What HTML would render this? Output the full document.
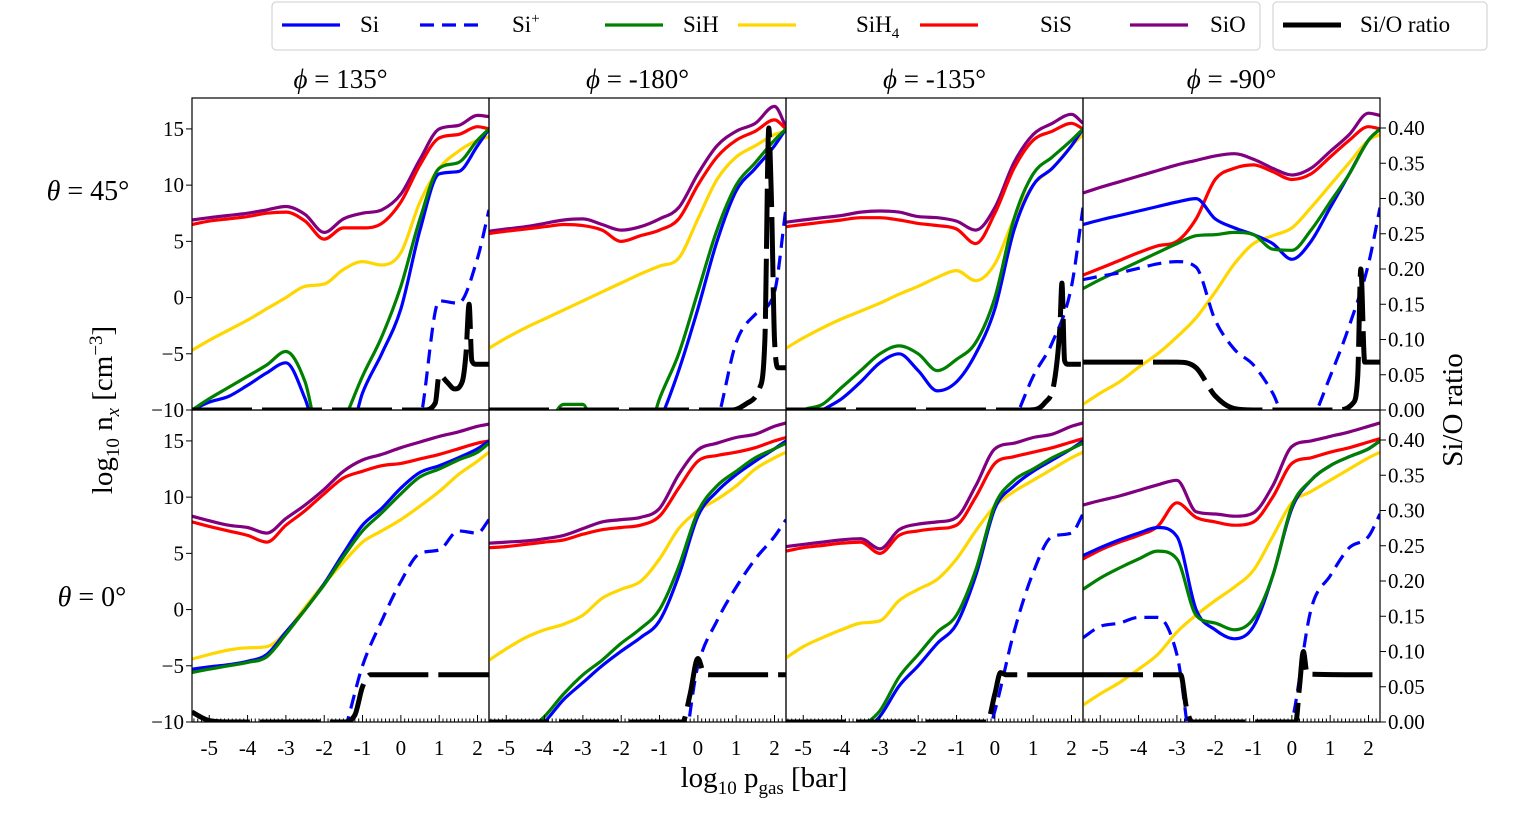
<!DOCTYPE html>
<html><head><meta charset="utf-8"><style>
body{margin:0;background:#fff;width:1533px;height:811px;overflow:hidden}
svg{font-family:"Liberation Serif",serif}
</style></head><body>
<svg id="chart" width="1533" height="811" xmlns="http://www.w3.org/2000/svg"></svg>
<script>
const G = [-5.45,-5,-4.5,-4,-3.5,-3,-2.5,-2,-1.5,-1,-0.5,0,0.5,1,1.5,2,2.3];
const phiLabels = ["135°","-180°","-135°","-90°"];
const xTicks = [-5,-4,-3,-2,-1,0,1,2];
const yTicks = [-10,-5,0,5,10,15];
const rTicks = [0,0.05,0.1,0.15,0.2,0.25,0.3,0.35,0.4];
// top row (theta=45)
const t1SiO=[6.9,7.1,7.3,7.5,7.8,8.1,7.4,5.8,7.0,7.5,7.8,9.2,12.3,15,15.3,16.2,16.1];
const t1SiS=[6.5,6.8,7,7.2,7.5,7.6,6.8,5.2,6.2,6.2,6.6,8.5,11.8,14.2,14.5,15.2,15];
const t1SiH4=[-4.7,-3.8,-2.9,-2,-1,0,1,1.2,2.5,3.2,2.9,4,8.5,11.5,13,14,14.3];
const t1Si=[-10,-9.3,-8.8,-7.8,-6.7,-5.8,-9,-14,-14,-8.5,-5,-1,6,11,11.2,13.5,15];
const t1SiH=[-10,-9,-8,-7,-6,-4.8,-7.5,-14,-11,-7,-3.5,1,7,11.5,12,14,15];
const t1SiP=[-14,-14,-14,-14,-14,-14,-14,-14,-14,-14,-14,-14,-11,-0.3,-0.5,3.5,7.8];
const t1RX=[-5.45,0.6,0.9,1.0,1.2,1.4,1.6,1.7,1.78,1.85,1.95,2.3];
const t1R=[0,0,0.01,0.05,0.04,0.03,0.04,0.08,0.15,0.07,0.065,0.065];
const t2SiO=[5.9,6.1,6.3,6.6,6.9,7.0,6.5,6.0,6.3,7.0,8.0,11,13.5,14.8,15.5,17,15.2];
const t2SiS=[5.7,5.9,6.1,6.3,6.5,6.4,6,5,5.5,6,7,10,12.5,14,14.8,15.8,15];
const t2SiH4=[-4.5,-3.6,-2.7,-1.9,-1.1,-0.3,0.5,1.3,2.1,2.8,3.5,7,10.5,12.5,13.5,14.5,14.8];
const t2Si=[-14,-14,-14,-14,-14,-14,-14,-14,-14,-11,-6.5,-1,5,9.5,11.5,13.5,15];
const t2SiH=[-14,-14,-14,-12,-9.5,-9.5,-14,-14,-14,-9,-5,0.5,6,10,12,14,15];
const t2SiP=[-14,-14,-14,-14,-14,-14,-14,-14,-14,-14,-14,-14,-11,-4,-1.5,0.5,8];
const t2RX=[-5.45,0.9,1.3,1.6,1.75,1.85,1.92,2.0,2.1,2.3];
const t2R=[0,0,0.01,0.03,0.1,0.4,0.3,0.1,0.06,0.06];
const t3SiO=[6.7,6.9,7.1,7.3,7.6,7.7,7.6,7.2,7.1,6.8,6,8,12,14.5,15.5,16.3,15.5];
const t3SiS=[6.3,6.5,6.7,6.9,7.1,7.1,6.9,6.6,6.4,6.1,4.8,7.5,11.5,14,14.8,15.5,15];
const t3SiH4=[-4.5,-3.6,-2.7,-1.9,-1.2,-0.5,0.3,1,1.8,2.4,1.5,3,7,10,11.5,13.5,14.5];
const t3SiH=[-11,-10,-9.5,-8,-6.5,-5,-4.3,-5,-6.5,-5.5,-4,0,7,11,12.5,14,15];
const t3Si=[-11,-11,-10,-9,-7.5,-5.8,-5,-6.5,-8.3,-7.5,-5,-1,6,10,11.5,13.5,15];
const t3SiP=[-14,-14,-14,-14,-14,-14,-14,-14,-14,-14,-14,-14,-11,-7,-4,1,8];
const t3RX=[-5.45,0.9,1.3,1.55,1.7,1.75,1.82,1.9,2.3];
const t3R=[0,0,0.01,0.04,0.12,0.18,0.07,0.065,0.065];
const t4SiO=[9.3,9.8,10.3,10.8,11.3,11.8,12.2,12.6,12.8,12.3,11.5,10.9,11.5,13,14.5,16.4,16.2];
const t4SiS=[2,2.6,3.3,4,4.6,5,7,10.5,11.5,11.8,11.2,10.5,11,12.5,14,15.2,15];
const t4Si=[6.5,6.9,7.3,7.7,8.1,8.5,8.8,7,6.2,5.6,4.8,3.4,5,8,11,14,15];
const t4SiH=[0.8,1.6,2.4,3.2,4,4.8,5.5,5.6,5.8,5.6,4.3,4.2,6,8.5,11,14,15];
const t4SiH4=[-9.5,-8.5,-7.5,-6.2,-5,-3.5,-1.8,0.5,3,4.8,5.5,6.2,8,10,12,14,14.5];
const t4SiP=[1.6,1.9,2.2,2.6,3.0,3.2,2.7,-2,-4.6,-6,-8.5,-12,-11,-7,-2.5,3,8];
const t4RX=[-5.45,-3,-2.5,-2,-1.5,-1,1.2,1.6,1.72,1.8,1.9,2.3];
const t4R=[0.068,0.068,0.06,0.02,0.002,0,0,0.01,0.05,0.2,0.068,0.068];
// bottom row (theta=0)
const b1SiO=[8.3,7.9,7.5,7.3,6.8,8.1,9.3,10.7,12.3,13.3,13.8,14.4,14.9,15.4,15.8,16.3,16.5];
const b1SiS=[7.8,7.4,7,6.6,6,7.5,8.8,10.3,11.7,12.3,12.8,13,13.4,13.8,14.3,14.8,15];
const b1Si=[-5.3,-5.1,-4.9,-4.6,-4,-2,0,2.3,5,7.5,9,10.8,12.2,12.8,13.5,14.3,15];
const b1SiH=[-5.6,-5.3,-5,-4.7,-4.2,-2.2,0,2.2,4.7,7,8.6,10.3,11.8,12.5,13.3,14,14.8];
const b1SiH4=[-4.4,-4,-3.6,-3.4,-3.3,-2,0.2,2.3,4.2,6,7,8,9.2,10.5,12,13.2,14];
const b1SiP=[-14,-14,-14,-14,-14,-14,-14,-14,-11,-5,-1,2.5,5,5.3,7,6.8,8];
const b1RX=[-5.45,-5,-4.5,-1.5,-1.2,-1,-0.8,-0.5,2.3];
const b1R=[0.014,0.002,0,0,0.01,0.05,0.067,0.067,0.067];
const b2SiO=[5.9,6,6.1,6.3,6.6,7.2,7.8,8,8.2,9,12,14.2,14.8,15.3,15.6,16.3,16.6];
const b2SiS=[5.5,5.6,5.8,6,6.2,6.7,7.1,7.3,7.5,8.3,10.8,13.2,13.7,14,14.4,15,15.3];
const b2SiH4=[-4.5,-3.5,-2.5,-1.8,-1.3,-0.5,1,1.8,2.5,4.5,7.2,8.8,9.8,11,12.5,13.5,14];
const b2SiH=[-14,-13,-11,-9.5,-7.5,-5.8,-4.5,-3,-1.7,0,3.8,8.7,11,12.3,13.5,14.3,14.8];
const b2Si=[-14,-13,-11.5,-10,-8,-6.5,-5,-3.7,-2.5,-1,3,8.3,10.5,12,13.2,14.3,15];
const b2SiP=[-14,-14,-14,-14,-14,-14,-14,-14,-14,-14,-14,-5,-1,2,4.5,6.5,8];
const b2RX=[-5.45,-0.4,-0.2,0,0.15,0.3,2.3];
const b2R=[0,0,0.04,0.09,0.07,0.067,0.067];
const b3SiO=[5.6,5.8,6,6.2,6.3,5.4,7.1,7.6,7.8,8.2,11,14.3,14.8,15.3,15.6,16.3,16.6];
const b3SiS=[5.2,5.5,5.7,5.9,6,5.0,6.6,7,7.2,7.5,10,13,13.6,14,14.4,14.9,15.2];
const b3SiH4=[-4.3,-3.3,-2.5,-1.8,-1.2,-1,0.8,1.8,2.7,4.5,7,9.2,10.5,11.5,12.5,13.5,14];
const b3SiH=[-14,-14,-13,-12,-10.5,-9,-6,-4,-2,-0.5,3.5,9.3,11.5,12.5,13.5,14.3,14.8];
const b3Si=[-14,-14,-13,-12,-11,-9.5,-6.8,-5,-3,-1.3,3,9,11,12.3,13.3,14.3,15];
const b3SiP=[-14,-14,-14,-14,-14,-14,-14,-14,-14,-14,-14,-9,-2,3.3,6.5,6.8,8.5];
const b3RX=[-5.45,-0.2,0,0.15,0.3,2.3];
const b3R=[0,0,0.04,0.07,0.067,0.067];
const b4SiO=[9.3,9.7,10.1,10.6,11.1,11.5,8.7,8.5,8.3,8.6,11,14.5,15,15.4,15.8,16.3,16.6];
const b4SiS=[4.5,5.3,6,6.6,7.4,9.5,8.2,7.8,7.5,7.8,10,13,13.5,14,14.4,14.9,15.2];
const b4Si=[4.8,5.5,6.2,6.8,7.3,6.5,0,-1.8,-2.6,-1.5,3,9,11.5,12.8,13.6,14.3,15];
const b4SiH=[1.8,2.8,3.7,4.5,5.2,4.5,-0.5,-1.2,-1.8,-0.8,3,9.2,11.5,12.8,13.6,14.3,15];
const b4SiH4=[-8.5,-7.5,-6.5,-5.3,-4,-2,-0.5,0.8,2,3.5,6.5,9.5,10.5,11.5,12.5,13.5,14];
const b4SiP=[-2.5,-1.5,-1.2,-0.7,-0.7,-4,-14,-14,-14,-14,-14,-10,0,3,5.5,6.5,8.5];
const b4RX=[-5.45,-2.9,-2.75,-2.6,0.1,0.2,0.3,0.4,2.3];
const b4R=[0.067,0.067,0.02,0,0,0.05,0.1,0.068,0.067];

const panels=[
 [t1SiO,t1SiS,t1SiH4,t1Si,t1SiH,t1SiP,t1RX,t1R],[t2SiO,t2SiS,t2SiH4,t2Si,t2SiH,t2SiP,t2RX,t2R],
 [t3SiO,t3SiS,t3SiH4,t3Si,t3SiH,t3SiP,t3RX,t3R],[t4SiO,t4SiS,t4SiH4,t4Si,t4SiH,t4SiP,t4RX,t4R],
 [b1SiO,b1SiS,b1SiH4,b1Si,b1SiH,b1SiP,b1RX,b1R],[b2SiO,b2SiS,b2SiH4,b2Si,b2SiH,b2SiP,b2RX,b2R],
 [b3SiO,b3SiS,b3SiH4,b3Si,b3SiH,b3SiP,b3RX,b3R],[b4SiO,b4SiS,b4SiH4,b4Si,b4SiH,b4SiP,b4RX,b4R]];
const seriesNames=["sio","sis","sih4","si","sih","si-plus"];
const seriesColors=["#800080","#ff0000","#ffd700","#0000ff","#008000","#0000ff"];

const svg=document.getElementById('chart');
const NS="http://www.w3.org/2000/svg";
function mk(tag,attrs,parent){const e=document.createElementNS(NS,tag);for(const k in attrs)e.setAttribute(k,attrs[k]);(parent||svg).appendChild(e);return e;}
const PX=[192,489,786,1083],PW=297,PT=[98,410],PH=312;
const xs=(p,x)=>PX[p]+(x+5.45)/7.75*PW;
const ys=(r,v)=>PT[r]+PH-(v+10)*PH/27.75;
const rs=(r,v)=>PT[r]+PH-v*705;
function monoPath(X,Y){
 const n=X.length,d=[],m=[];
 for(let i=0;i<n-1;i++)d.push((Y[i+1]-Y[i])/(X[i+1]-X[i]));
 m[0]=d[0];m[n-1]=d[n-2];
 for(let i=1;i<n-1;i++){m[i]=(d[i-1]*d[i]<=0)?0:(d[i-1]+d[i])/2;}
 for(let i=0;i<n-1;i++){if(d[i]===0){m[i]=0;m[i+1]=0;continue;}const a=m[i]/d[i],b=m[i+1]/d[i],s=a*a+b*b;if(s>9){const t=3/Math.sqrt(s);m[i]=t*a*d[i];m[i+1]=t*b*d[i];}}
 let p='M'+X[0].toFixed(1)+','+Y[0].toFixed(1);
 for(let i=0;i<n-1;i++){const h=(X[i+1]-X[i])/3;p+='C'+(X[i]+h).toFixed(1)+','+(Y[i]+m[i]*h).toFixed(1)+' '+(X[i+1]-h).toFixed(1)+','+(Y[i+1]-m[i+1]*h).toFixed(1)+' '+X[i+1].toFixed(1)+','+Y[i+1].toFixed(1);}
 return p;}
const defs=mk('defs',{});
for(let k=0;k<8;k++){
 const p=k%4,r=Math.floor(k/4);
 const cp=mk('clipPath',{id:'c'+k},defs);mk('rect',{x:PX[p],y:PT[r],width:PW,height:PH},cp);
 const g=mk('g',{'clip-path':'url(#c'+k+')'});
 
 
 const d=panels[k];
 for(let s=0;s<6;s++){
  const X=G.map(x=>xs(p,x)),Y=d[s].map(v=>ys(r,v));
  const e=mk('path',{d:monoPath(X,Y),fill:'none',stroke:seriesColors[s],'stroke-width':3.2,'stroke-dasharray':s===5?'14 8':'none'},g);
  
  
 }
 const RX=d[6].map(x=>xs(p,x)),RY=d[7].map(v=>rs(r,v));
 const e=mk('path',{d:monoPath(RX,RY),fill:'none',stroke:'#000','stroke-width':5,'stroke-dasharray':'60 10'},g);
 
 
 const fr=mk('rect',{x:PX[p],y:PT[r],width:PW,height:PH,fill:'none',stroke:'#000','stroke-width':1.2});
 
 
 if(r===1){for(let t=-54;t<=23;t++){const x=xs(p,t/10);const maj=t%10===0;mk('line',{x1:x,x2:x,y1:PT[r]+PH,y2:PT[r]+PH-(maj?7:3.5),stroke:'#000','stroke-width':1});}
  xTicks.forEach(t=>{const l=mk('text',{x:xs(p,t),y:755,'font-size':21,'text-anchor':'middle'});l.textContent=t;
  
  });}
 if(p===0){yTicks.forEach(t=>{const y=ys(r,t);mk('line',{x1:PX[0]-6,x2:PX[0],y1:y,y2:y,stroke:'#000'});
  const l=mk('text',{x:PX[0]-8,y:y+7,'font-size':21,'text-anchor':'end'});l.textContent=(t<0?'\u2212':'')+Math.abs(t);
  
  });}
 if(p===3){rTicks.forEach(t=>{const y=rs(r,t);mk('line',{x1:1380,x2:1386,y1:y,y2:y,stroke:'#000'});
  const l=mk('text',{x:1388,y:y+7,'font-size':21});l.textContent=t.toFixed(2);
  
  });}
 if(r===0){const l=mk('text',{x:PX[p]+PW/2,y:88,'font-size':27,'text-anchor':'middle'});
  l.innerHTML='<tspan font-style="italic">ϕ</tspan> = '+phiLabels[p];
  
  }
}
function txt(x,y,size,html,name,extra){const l=mk('text',Object.assign({x:x,y:y,'font-size':size},extra||{}));l.innerHTML=html;
 
 return l;}
txt(88,200,28,'<tspan font-style="italic">θ</tspan> = 45°','row-label-theta-45',{'text-anchor':'middle'});
txt(92,606,28,'<tspan font-style="italic">θ</tspan> = 0°','row-label-theta-0',{'text-anchor':'middle'});
txt(764,787,29,'log<tspan font-size="19" dy="7">10</tspan><tspan dy="-7"> p</tspan><tspan font-size="19" dy="7">gas</tspan><tspan dy="-7"> [bar]</tspan>','x-axis-title',{'text-anchor':'middle'});
txt(0,0,29,'log<tspan font-size="19" dy="7">10</tspan><tspan dy="-7"> n</tspan><tspan font-size="19" dy="7" font-style="italic">x</tspan><tspan dy="-7"> [cm</tspan><tspan font-size="19" dy="-10">−3</tspan><tspan dy="10">]</tspan>','y-axis-title',{'text-anchor':'middle',transform:'translate(112,410) rotate(-90)'});
txt(0,0,29,'Si/O ratio','right-axis-title',{'text-anchor':'middle',transform:'translate(1462,410) rotate(-90)'});
const lg=mk('g',{});


mk('rect',{x:272,y:2,width:988,height:48,rx:4,fill:'#fff',stroke:'#ccc'},lg);
mk('rect',{x:1273,y:2,width:214,height:48,rx:4,fill:'#fff',stroke:'#ccc'},lg);
const legItems=[[282,'#0000ff','none','Si',360],[420,'#0000ff','14 8','Si<tspan font-size="15" dy="-9">+</tspan>',512],[605,'#008000','none','SiH',683],[738,'#ffd700','none','SiH<tspan font-size="15" dy="6">4</tspan>',856],[920,'#ff0000','none','SiS',1040],[1130,'#800080','none','SiO',1210],[1283,'#000','none','Si/O ratio',1360]];
legItems.forEach((it,i)=>{const ln=mk('line',{x1:it[0],x2:it[0]+58,y1:25,y2:25,stroke:it[1],'stroke-width':i===6?5:3.2,'stroke-dasharray':it[2]},lg);
 
 
 const t=mk('text',{x:it[4],y:32,'font-size':23},lg);t.innerHTML=it[3];
 
 });
</script>
</body></html>
